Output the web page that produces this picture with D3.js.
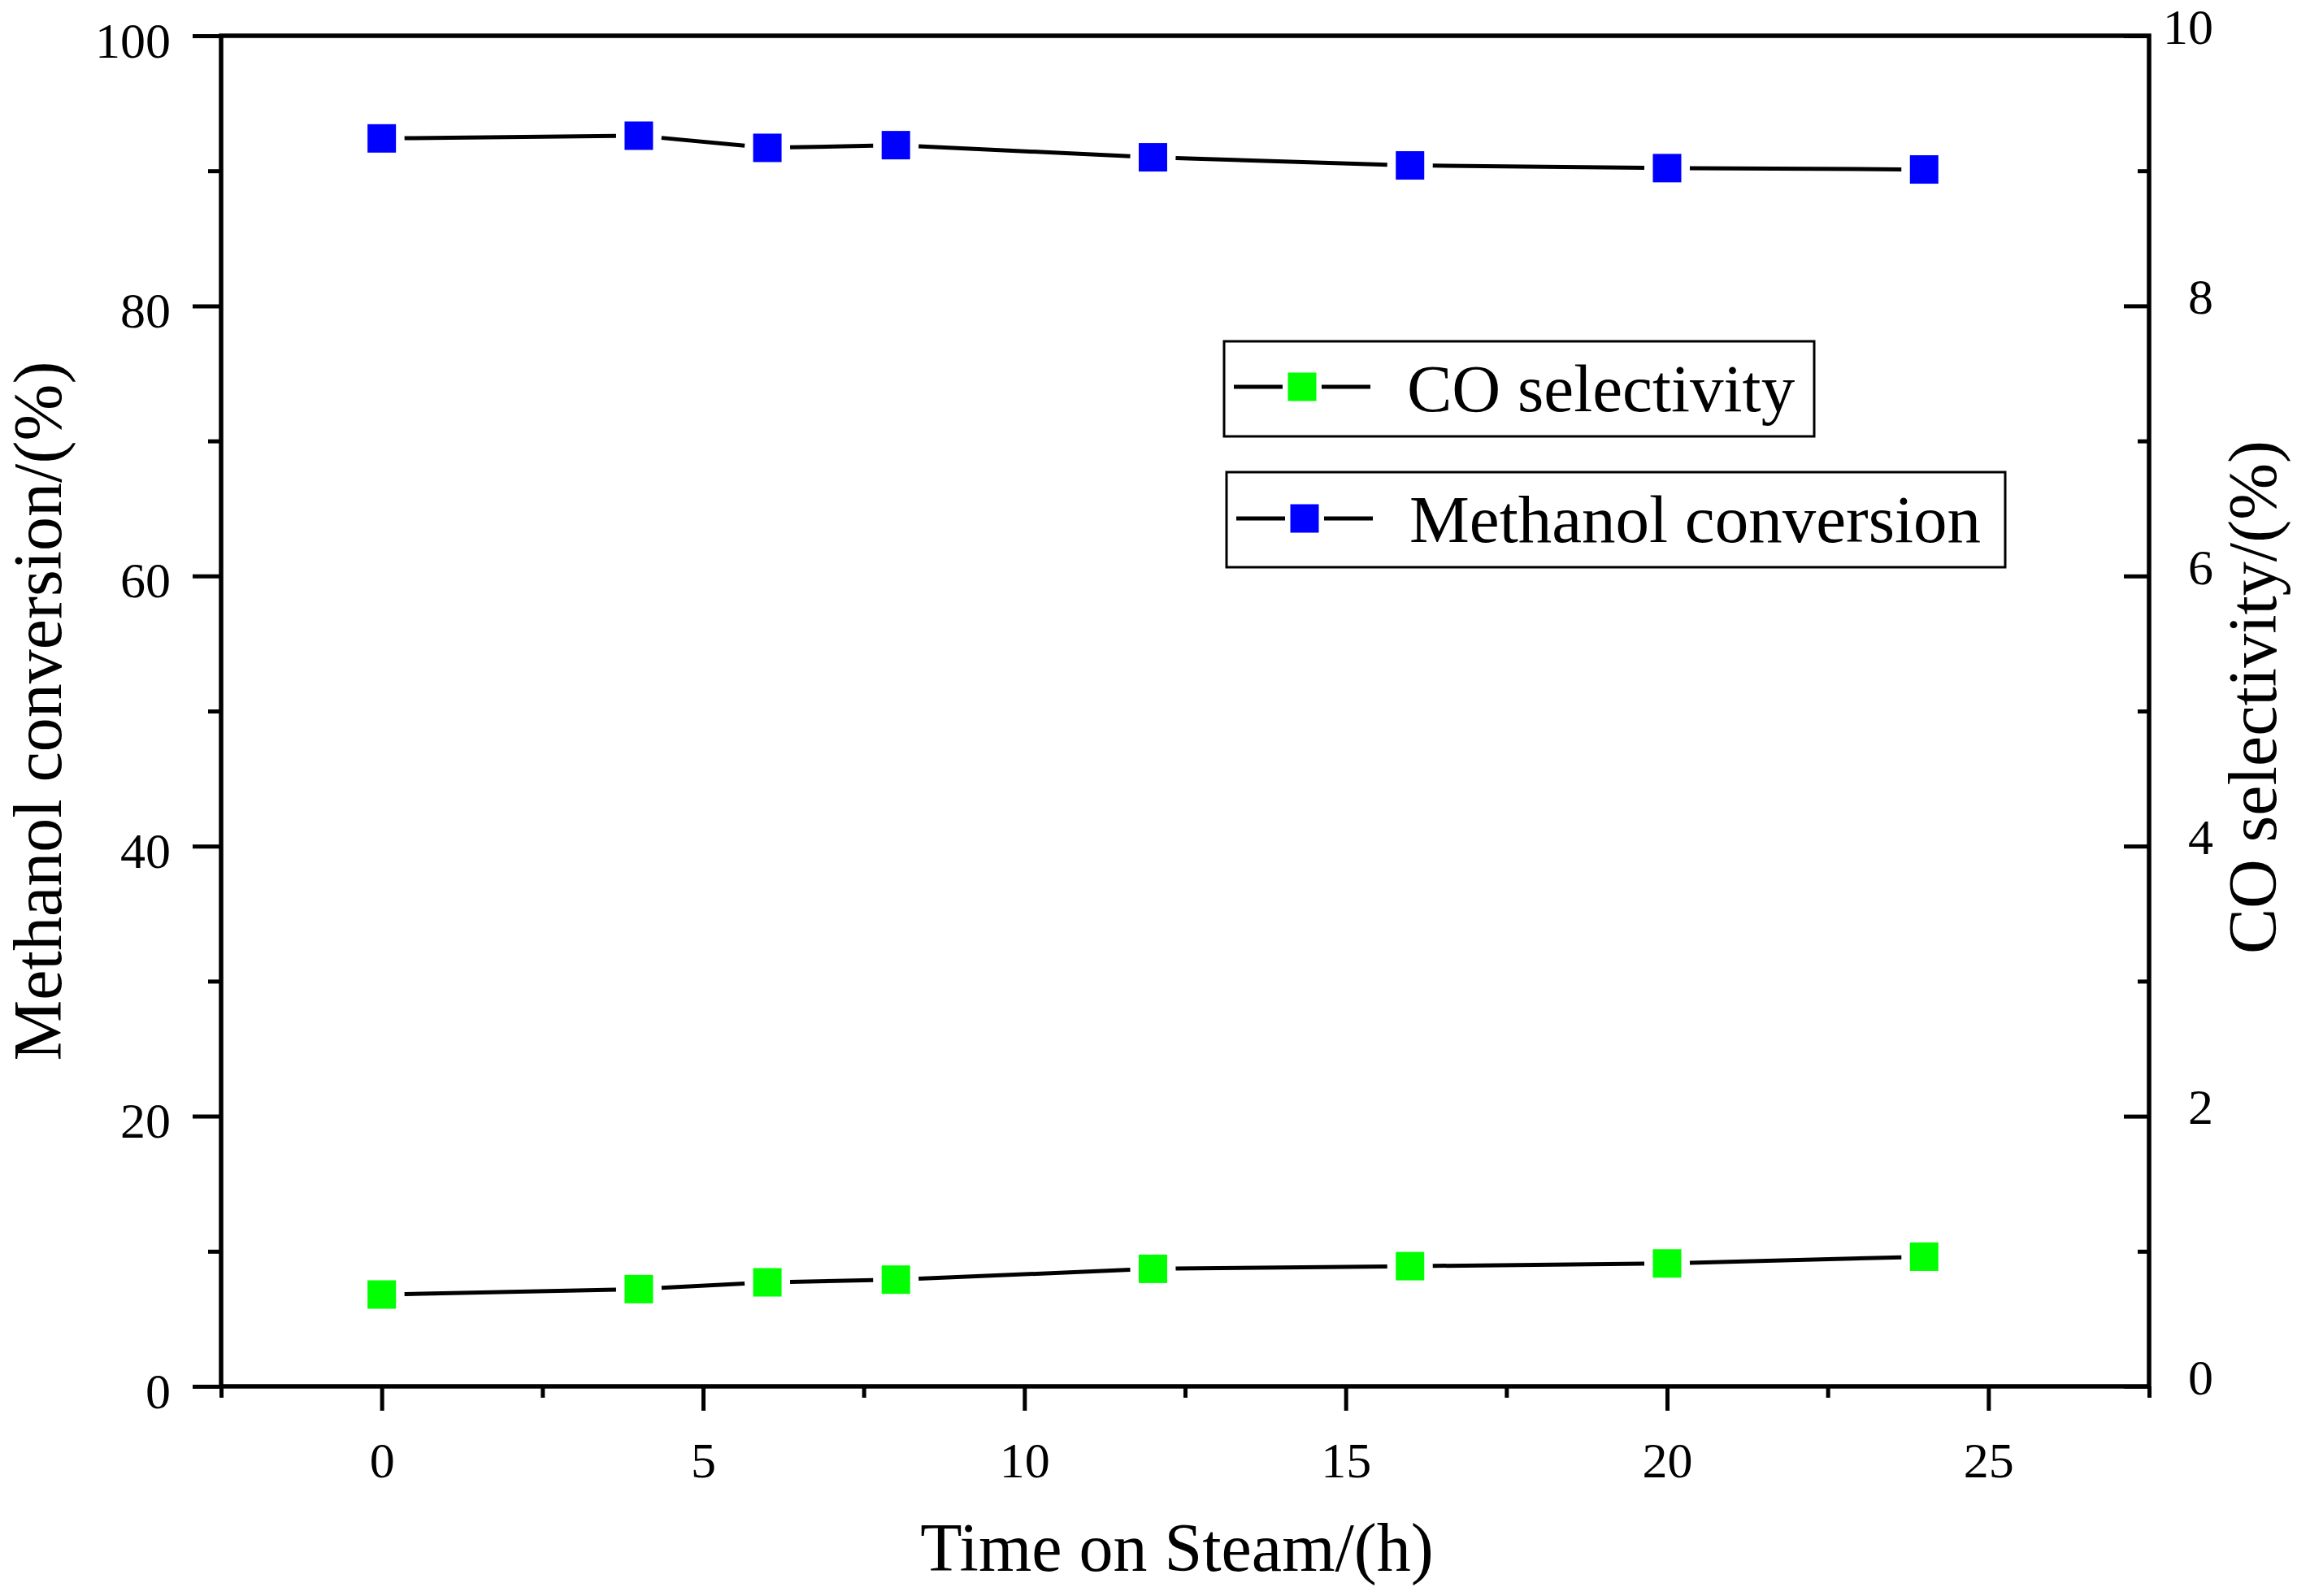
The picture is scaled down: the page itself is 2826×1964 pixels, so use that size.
<!DOCTYPE html>
<html>
<head>
<meta charset="utf-8">
<script src="https://cdn.jsdelivr.net/npm/d3@7"></script>
<style>
  body { margin: 0; background: #fff; }
  svg text { font-family: "Liberation Serif", "Times New Roman", serif; fill: #000; }
</style>
</head>
<body>
<svg id="chart"></svg>
<script>
// Data
const hours = [0, 4, 6, 8, 12, 16, 20, 24];
const methanolConversion = [92.4, 92.6, 91.7, 91.9, 91.0, 90.4, 90.2, 90.1];
const coSelectivity = [0.68, 0.72, 0.77, 0.79, 0.87, 0.89, 0.91, 0.96];

const xTicks = [0, 5, 10, 15, 20, 25];
const leftTicks = [0, 20, 40, 60, 80, 100];
const rightTicks = [0, 2, 4, 6, 8, 10];

const seriesNames = ["CO selectivity", "Methanol conversion"];
const seriesColors = ["#00ff00", "#0000ff"];

const config = {
    width: 2826,
    height: 1964,
    plot: { left: 272, right: 2644, top: 44, bottom: 1706 },
    marker: 35,
    gap: 28,
    tickFont: 62,
    titleFont: 84
};

const svg = d3.select("#chart")
    .attr("width", config.width)
    .attr("height", config.height);

const p = config.plot;

const x = d3.scaleLinear().domain([-2.5, 27.5]).range([p.left, p.right]);
const yLeft = d3.scaleLinear().domain([0, 100]).range([p.bottom, p.top]);
const yRight = d3.scaleLinear().domain([0, 10]).range([p.bottom, p.top]);

// minor tick values
const xMinor = d3.range(-2.5, 27.51, 5);
const leftMinor = d3.range(10, 100, 20);
const rightMinor = d3.range(1, 10, 2);

function styleAxis(g) {
    g.select(".domain").remove();
    g.selectAll(".tick line").attr("stroke", "#000").attr("stroke-width", 5);
    g.selectAll(".tick text")
        .style("font-size", config.tickFont + "px")
        .style("font-family", '"Liberation Serif", "Times New Roman", serif')
        .attr("fill", "#000");
}

// bottom axis
svg.append("g")
    .attr("transform", `translate(0,${p.bottom})`)
    .call(d3.axisBottom(x).tickValues(xTicks).tickSize(30).tickPadding(38).tickFormat(d3.format("d")))
    .call(styleAxis);
svg.append("g")
    .attr("transform", `translate(0,${p.bottom})`)
    .call(d3.axisBottom(x).tickValues(xMinor).tickSize(14).tickFormat(""))
    .call(styleAxis);

// left axis
svg.append("g")
    .attr("transform", `translate(${p.left},0)`)
    .call(d3.axisLeft(yLeft).tickValues(leftTicks).tickSize(35).tickPadding(27).tickFormat(d3.format("d")))
    .call(styleAxis)
    .call(g => g.selectAll(".tick text").attr("dy", "0.42em"));
svg.append("g")
    .attr("transform", `translate(${p.left},0)`)
    .call(d3.axisLeft(yLeft).tickValues(leftMinor).tickSize(16).tickFormat(""))
    .call(styleAxis);

// right axis, ticks pointing inward
svg.append("g")
    .attr("transform", `translate(${p.right},0)`)
    .call(d3.axisRight(yRight).tickValues(rightTicks).tickSize(-31).tickFormat(d3.format("d")))
    .call(styleAxis)
    .call(g => g.selectAll(".tick text").attr("x", 79).attr("text-anchor", "end").attr("dy", "0.15em"));
svg.append("g")
    .attr("transform", `translate(${p.right},0)`)
    .call(d3.axisRight(yRight).tickValues(rightMinor).tickSize(-14).tickFormat(""))
    .call(styleAxis);

// frame
svg.append("rect")
    .attr("x", p.left)
    .attr("y", p.top)
    .attr("width", p.right - p.left)
    .attr("height", p.bottom - p.top)
    .attr("fill", "none")
    .attr("stroke", "#000")
    .attr("stroke-width", 5.5);

// axis titles
svg.append("text")
    .attr("x", (p.left + p.right) / 2 - 10)
    .attr("y", 1933)
    .attr("text-anchor", "middle")
    .style("font-size", config.titleFont + "px")
    .text("Time on Steam/(h)");

svg.append("text")
    .attr("transform", `translate(75,875) rotate(-90)`)
    .attr("text-anchor", "middle")
    .style("font-size", config.titleFont + "px")
    .text("Methanol conversion/(%)");

svg.append("text")
    .attr("transform", `translate(2800,858) rotate(-90)`)
    .attr("text-anchor", "middle")
    .style("font-size", config.titleFont + "px")
    .text("CO selectivity/(%)");

// line with gaps near the symbols, then the symbols
function drawSeries(values, yScale, color) {
    const pts = hours.map((h, i) => [x(h), yScale(values[i])]);
    const segs = d3.pairs(pts).map(([a, b]) => {
        const dx = b[0] - a[0], dy = b[1] - a[1];
        const len = Math.hypot(dx, dy);
        const ux = dx / len, uy = dy / len;
        return [a[0] + ux * config.gap, a[1] + uy * config.gap,
                b[0] - ux * config.gap, b[1] - uy * config.gap];
    });
    const g = svg.append("g");
    g.selectAll("line")
        .data(segs)
        .join("line")
        .attr("x1", d => d[0]).attr("y1", d => d[1])
        .attr("x2", d => d[2]).attr("y2", d => d[3])
        .attr("stroke", "#000")
        .attr("stroke-width", 5);
    g.selectAll("rect")
        .data(pts)
        .join("rect")
        .attr("x", d => d[0] - config.marker / 2)
        .attr("y", d => d[1] - config.marker / 2)
        .attr("width", config.marker)
        .attr("height", config.marker)
        .attr("fill", color);
}

drawSeries(methanolConversion, yLeft, seriesColors[1]);
drawSeries(coSelectivity, yRight, seriesColors[0]);

// legend: two separate boxes
const legendBoxes = [
    { x: 1506, y: 420, w: 726, h: 117, sy: 476, ty: 506 },
    { x: 1509, y: 581, w: 958, h: 117, sy: 638, ty: 667 }
];

const legend = svg.selectAll(".legend")
    .data(seriesNames)
    .join("g")
    .attr("class", "legend");

legend.append("rect")
    .attr("x", (d, i) => legendBoxes[i].x)
    .attr("y", (d, i) => legendBoxes[i].y)
    .attr("width", (d, i) => legendBoxes[i].w)
    .attr("height", (d, i) => legendBoxes[i].h)
    .attr("fill", "#fff")
    .attr("stroke", "#000")
    .attr("stroke-width", 3);

legend.append("line")
    .attr("x1", (d, i) => legendBoxes[i].x + 12)
    .attr("x2", (d, i) => legendBoxes[i].x + 72)
    .attr("y1", (d, i) => legendBoxes[i].sy)
    .attr("y2", (d, i) => legendBoxes[i].sy)
    .attr("stroke", "#000").attr("stroke-width", 5);

legend.append("line")
    .attr("x1", (d, i) => legendBoxes[i].x + 120)
    .attr("x2", (d, i) => legendBoxes[i].x + 180)
    .attr("y1", (d, i) => legendBoxes[i].sy)
    .attr("y2", (d, i) => legendBoxes[i].sy)
    .attr("stroke", "#000").attr("stroke-width", 5);

legend.append("rect")
    .attr("x", (d, i) => legendBoxes[i].x + 96 - config.marker / 2)
    .attr("y", (d, i) => legendBoxes[i].sy - config.marker / 2)
    .attr("width", config.marker)
    .attr("height", config.marker)
    .attr("fill", (d, i) => seriesColors[i]);

legend.append("text")
    .attr("x", (d, i) => legendBoxes[i].x + 225)
    .attr("y", (d, i) => legendBoxes[i].ty)
    .style("font-size", "83px")
    .text(d => d);
</script>
</body>
</html>
